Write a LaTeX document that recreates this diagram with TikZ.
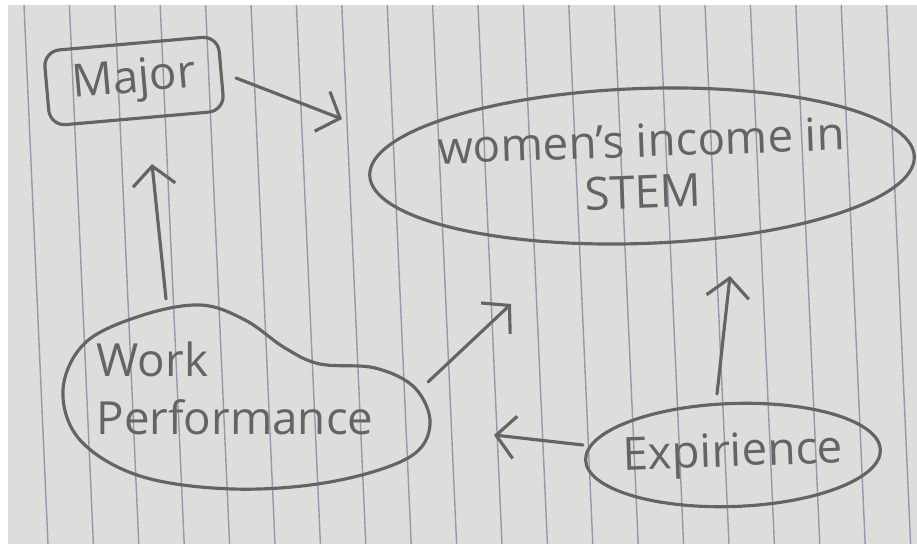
\documentclass[tikz,border=0pt]{standalone}
\usepackage{fontspec}
\setmainfont{Open Sans}
\usetikzlibrary{arrows.meta,shapes.geometric}
\definecolor{pencil}{RGB}{100,100,100}
\definecolor{paper}{RGB}{221,221,219}
\definecolor{rule}{RGB}{150,152,170}

\begin{document}
\begin{tikzpicture}[x=0.02cm, y=-0.02cm]
  \tikzset{PencilStyle/.style = {
  draw = pencil,
  line width = 1.8pt,
  line cap = round,
  line join = round}}
  \tikzset{LabelStyle/.style = {
  text = pencil,
  font = \fontsize{26}{29}\selectfont}}
  \tikzset{ArrowStyle/.style = {
  PencilStyle,
  -{Straight Barb[length=0.38cm, width=0.85cm]}}}
  \useasboundingbox (0,0) rectangle (917,544);
  % lined paper
  \fill[white] (0,0) rectangle (917,544);
  \fill[paper] (8,5) rectangle (917,544);
  \begin{scope}
    \clip (8,5) rectangle (917,544);
    \foreach \i in {0,...,20}
      \draw[rule, line width=0.8pt] (24+45.4*\i,5) -- (48+45.4*\i,544);
  \end{scope}
  % boxes
  \node[LabelStyle, PencilStyle, rounded corners=9pt, minimum width=3.5cm,
        minimum height=1.5cm, rotate=5] (major) at (134,81) {Major};
  \node[LabelStyle, PencilStyle, ellipse, align=center, inner sep=-1.5cm,
        minimum width=10.9cm, minimum height=3.1cm, rotate=2] (income) at (642,166)
        {women's income in\\STEM};
  \node[LabelStyle, PencilStyle, ellipse, inner sep=-1cm,
        minimum width=5.9cm, minimum height=2.06cm, rotate=2] (exp) at (733,455)
        {Expirience};
  \node[LabelStyle, align=left, font=\fontsize{26}{33}\selectfont] (work) at (235,388)
        {Work\\Performance};
  \draw[PencilStyle] plot[smooth cycle, tension=0.6] coordinates {
    (63,390) (85,343) (140,316) (200,305) (245,320) (285,348) (320,364)
    (375,368) (415,388) (430,425) (408,458) (330,482) (233,489) (140,476) (80,440)};
  % arrows
  \coordinate (m1) at (236,78);  \coordinate (m2) at (342,119);
  \coordinate (w1) at (166,299); \coordinate (w2) at (152,164);
  \coordinate (w3) at (428,382); \coordinate (w4) at (511,304);
  \coordinate (e1) at (717,394); \coordinate (e2) at (730,276);
  \coordinate (e3) at (583,445); \coordinate (e4) at (494,435);
  \draw[ArrowStyle] (m1) -- (m2);
  \draw[ArrowStyle] (w1) -- (w2);
  \draw[ArrowStyle] (w3) -- (w4);
  \draw[ArrowStyle] (e1) -- (e2);
  \draw[ArrowStyle] (e3) -- (e4);
\end{tikzpicture}
\end{document}
